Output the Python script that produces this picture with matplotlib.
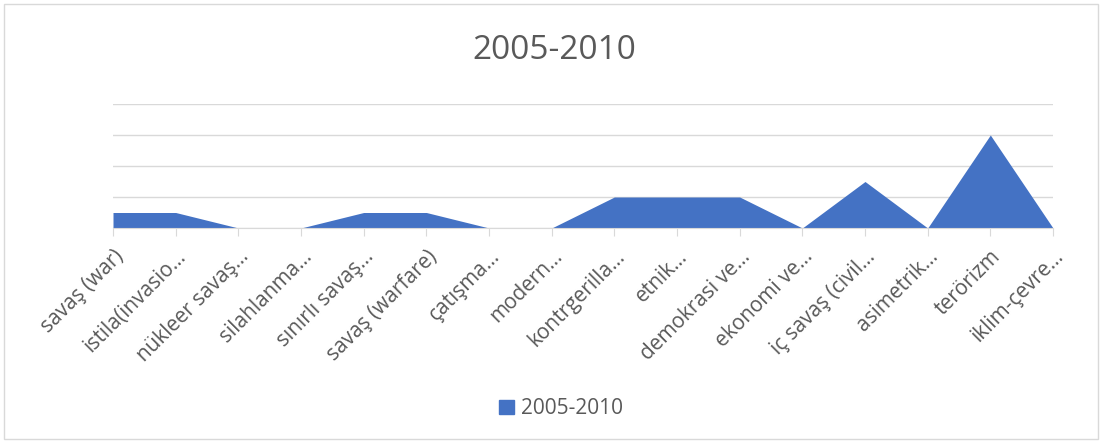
import matplotlib.pyplot as plt
from matplotlib.patches import Rectangle, Patch

# veri
kategoriler = ["savaş (war)", "istila(invasio…", "nükleer savaş…", "silahlanma…",
               "sınırlı savaş…", "savaş (warfare)", "çatışma…", "modern…",
               "kontrgerilla…", "etnik…", "demokrasi ve…", "ekonomi ve…",
               "iç savaş (civil…", "asimetrik…", "terörizm", "iklim-çevre…"]
degerler = [1, 1, 0, 0, 1, 1, 0, 0, 2, 2, 2, 0, 3, 0, 6, 0]
seri_adi = "2005-2010"

mavi = "#4472C4"
gri_yazi = "#595959"
plt.rcParams['font.family'] = ['Open Sans', 'DejaVu Sans']

fig = plt.figure(figsize=(11.03, 4.42), dpi=100)
ax = fig.add_axes([113 / 1103, (442 - 228) / 442, (1053 - 113) / 1103, (228 - 104) / 442])

x = list(range(len(kategoriler)))
ax.fill_between(x, degerler, 0, color=mavi, linewidth=0)

ax.set_xlim(0, len(kategoriler) - 1)
ax.set_ylim(0, 8)
ax.set_yticks([0, 2, 4, 6, 8])
ax.yaxis.grid(True, color="#D9D9D9", linewidth=1)
ax.set_axisbelow(True)
ax.tick_params(axis='y', length=0, labelleft=False)
for s in ['top', 'right', 'left']:
    ax.spines[s].set_visible(False)
ax.spines['bottom'].set_color("#D9D9D9")

ax.set_xticks(x)
ax.set_xticklabels(kategoriler, rotation=45, ha='right', va='top',
                   rotation_mode='anchor', fontsize=15, color=gri_yazi)
ax.tick_params(axis='x', length=6, color="#D9D9D9", pad=7)

fig.text(0.503, 0.886, seri_adi, ha='center', va='center', fontsize=24, color=gri_yazi)

fig.legend(handles=[Patch(color=mavi, label=seri_adi)], loc='center',
           bbox_to_anchor=(0.509, 0.075), frameon=False, fontsize=15,
           handlelength=0.7, handleheight=0.7, handletextpad=0.35, labelcolor=gri_yazi)

fig.patches.append(Rectangle((4 / 1103, 3 / 442), 1094 / 1103, 435 / 442,
                             transform=fig.transFigure, fill=False,
                             edgecolor="#D9D9D9", linewidth=1))

fig.savefig("out.png", dpi=100)
